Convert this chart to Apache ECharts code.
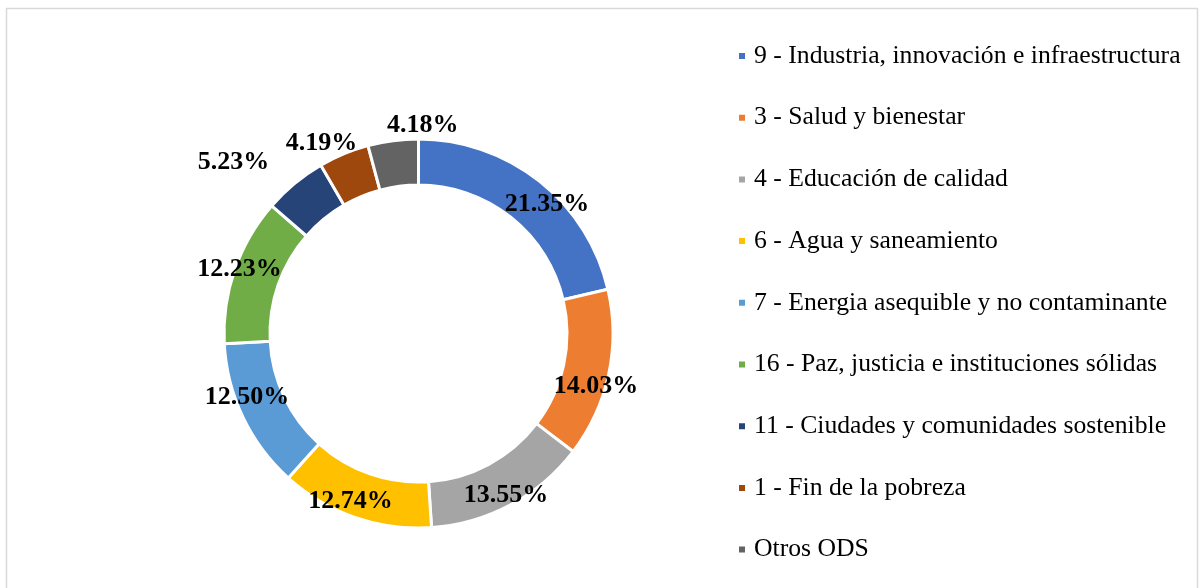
<!DOCTYPE html>
<html>
<head>
<meta charset="utf-8">
<script src="https://cdn.jsdelivr.net/npm/echarts@6/dist/echarts.min.js"></script>
<style>
html,body{margin:0;padding:0;background:#fff;}
#chart{width:1199px;height:588px;}
</style>
</head>
<body>
<div id="chart"></div>
<script>
const categories = [
  "9 - Industria, innovación e infraestructura",
  "3 - Salud y bienestar",
  "4 - Educación de calidad",
  "6 - Agua y saneamiento",
  "7 - Energia asequible y no contaminante",
  "16 - Paz, justicia e instituciones sólidas",
  "11 - Ciudades y comunidades sostenible",
  "1 - Fin de la pobreza",
  "Otros ODS"
];
const values = [21.35, 14.03, 13.55, 12.74, 12.50, 12.23, 5.23, 4.19, 4.18];
const colors = ["#4472C4", "#ED7D31", "#A5A5A5", "#FFC000", "#5B9BD5", "#70AD47", "#264478", "#9E480E", "#636363"];
const labelOffsets = [[20, 7], [7, 16], [5, 8], [-11, 3], [-14, -11], [-14, -7], [-74, -37], [-30, -29], [27, -35]];

const chart = echarts.init(document.getElementById('chart'), null, {renderer: 'canvas'});
const data = categories.map((c, i) => ({
  name: c,
  value: values[i],
  itemStyle: {color: colors[i]},
  label: {offset: labelOffsets[i]}
}));

chart.setOption({
  backgroundColor: '#ffffff',
  animation: false,
  graphic: [{
    type: 'rect',
    shape: {x: 6.5, y: 8.5, width: 1191, height: 620},
    style: {fill: 'none', stroke: '#d9d9d9', lineWidth: 1.5},
    silent: true
  }],
  legend: {
    orient: 'vertical',
    left: 732,
    top: 38,
    icon: 'rect',
    itemWidth: 8,
    itemHeight: 8,
    itemGap: 35.7,
    textStyle: {
      fontFamily: 'Liberation Serif',
      fontSize: 25.7,
      lineHeight: 26,
      color: '#000',
      padding: [0, 0, 0, 3]
    },
    data: categories
  },
  series: [{
    type: 'pie',
    center: [418.5, 333.5],
    radius: [148.5, 194.5],
    startAngle: 90,
    clockwise: true,
    avoidLabelOverlap: false,
    itemStyle: {borderColor: '#ffffff', borderWidth: 3},
    label: {
      show: true,
      position: 'inside',
      formatter: (p) => p.value.toFixed(2) + '%',
      fontFamily: 'Liberation Serif',
      fontWeight: 'bold',
      fontSize: 26,
      color: '#000'
    },
    labelLine: {show: false},
    emphasis: {disabled: true},
    data: data
  }]
});
</script>
</body>
</html>
